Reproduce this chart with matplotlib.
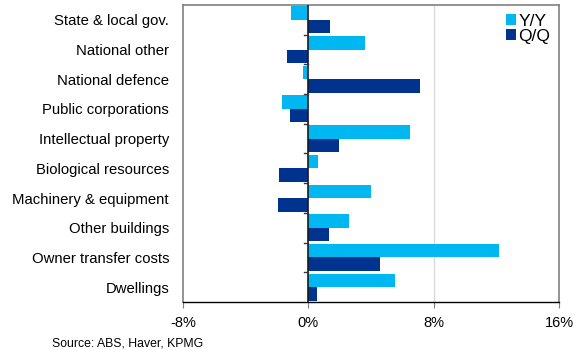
import numpy as np
import matplotlib.pyplot as plt
from matplotlib.ticker import FuncFormatter

plt.rcParams['font.family'] = ['Liberation Sans', 'DejaVu Sans']

categories = ['State & local gov.', 'National other', 'National defence',
              'Public corporations', 'Intellectual property', 'Biological resources',
              'Machinery & equipment', 'Other buildings', 'Owner transfer costs',
              'Dwellings']
yy = [-1.1, 3.6, -0.35, -1.65, 6.5, 0.6, 4.0, 2.6, 12.2, 5.5]
qq = [1.4, -1.35, 7.1, -1.2, 1.95, -1.9, -1.95, 1.35, 4.55, 0.55]

light = '#00B8F1'
dark = '#00338D'

fig = plt.figure(figsize=(5.81, 3.5), dpi=100)
ax = fig.add_axes([183 / 581, 48 / 350, 376 / 581, 297 / 350])

n = len(categories)
pos = np.arange(n)
h = 0.455
ax.barh(pos - h / 2, yy, height=h, color=light, label='Y/Y', zorder=3)
ax.barh(pos + h / 2, qq, height=h, color=dark, label='Q/Q', zorder=3)

ax.set_xlim(-8, 16)
ax.set_ylim(n - 0.5, -0.5)
ax.set_xticks([-8, 0, 8, 16])
ax.xaxis.set_major_formatter(FuncFormatter(lambda v, p: f'{v:.0f}%'))
ax.set_yticks(pos)
ax.set_yticklabels(categories)
ax.tick_params(axis='y', length=0, labelsize=10.7, pad=10, colors='#000000')
ax.tick_params(axis='x', length=4, color='#808080', labelsize=10.5, pad=6)

# light gridline at 8%
ax.axvline(8, color='#D9D9D9', lw=1, zorder=1)

# category axis sits on zero with boundary ticks
ax.axvline(0, color='#1a1a1a', lw=1.2, zorder=4)
for b in np.arange(0.5, n - 0.5, 1.0):
    ax.plot([-0.3, 0], [b, b], color='#333333', lw=1, zorder=4, clip_on=False)

for side in ['top', 'right', 'left']:
    ax.spines[side].set_color('#808080')
    ax.spines[side].set_linewidth(1.2)
ax.spines['bottom'].set_color('#000000')
ax.spines['bottom'].set_linewidth(1)

leg = ax.legend(loc='upper right', frameon=False, fontsize=12.5, handlelength=0.55,
                handleheight=0.6, handletextpad=0.15, labelspacing=0.0,
                borderaxespad=0.1, bbox_to_anchor=(1.0, 1.0))

fig.text(52 / 581, 1 - 343 / 350, 'Source: ABS, Haver, KPMG', fontsize=8.8,
         va='center', ha='left')

fig.savefig('out.png', dpi=100)
